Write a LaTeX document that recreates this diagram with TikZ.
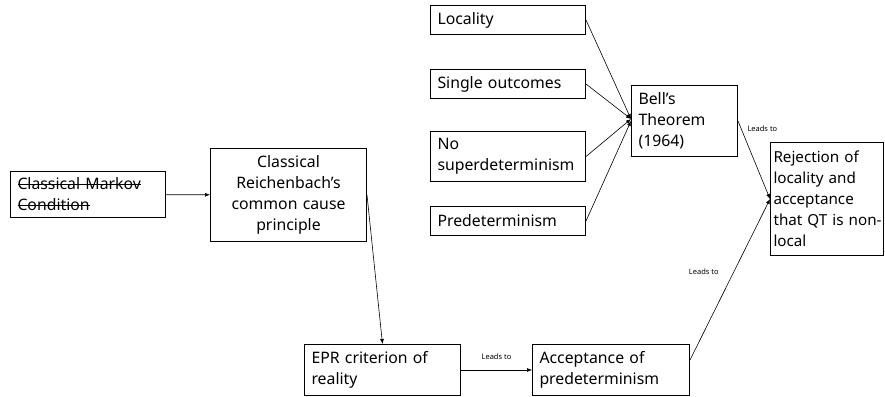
\documentclass[tikz,border=0pt]{standalone}
\usepackage{fontspec}
\setmainfont{Noto Sans}
\usetikzlibrary{arrows.meta}
\usetikzlibrary{positioning}

\newsavebox{\strikebox}
\newcommand{\strikeout}[1]{\leavevmode\sbox{\strikebox}{#1}\rlap{\rule[0.3em]{\wd\strikebox}{0.7pt}}\usebox{\strikebox}}

\tikzset{
  box/.style={draw, line width=1pt, anchor=north west, align=left,
    inner xsep=7pt, inner ysep=2pt, font=\fontsize{15.8}{21}\selectfont},
  link/.style={-{Latex[length=5pt,width=4pt]}, line width=0.6pt},
  lbl/.style={font=\fontsize{7.5}{9}\selectfont, inner sep=1pt},
}

\begin{document}
\begin{tikzpicture}[x=1pt,y=-1pt]
  \useasboundingbox (0,0) rectangle (885,396);

  % left chain
  \node[box, text width=141pt, minimum height=46pt] (markov) at (10,171)
    {\strikeout{Classical Markov}\\\strikeout{Condition}};
  \node[box, align=center, text width=142pt, minimum height=93pt] (reich) at (210,148)
    {Classical\\Reichenbach’s\\common cause\\principle};
  \node[box, text width=142pt, minimum height=51pt] (epr) at (304,344)
    {EPR criterion of\\reality};
  \node[box, text width=143pt, minimum height=51pt] (accept) at (532,344)
    {Acceptance of\\predeterminism};

  % assumptions of Bell
  \node[box, text width=141pt, minimum height=29pt] (locality) at (430,5) {Locality};
  \node[box, text width=141pt, minimum height=29pt] (single) at (430,69) {Single outcomes};
  \node[box, text width=141pt, minimum height=50pt] (nosuper) at (430,131)
    {No\\superdeterminism};
  \node[box, text width=141pt, minimum height=29pt] (predet) at (430,206) {Predeterminism};

  \node[box, text width=92pt, minimum height=71pt] (bell) at (631,85)
    {Bell’s\\Theorem\\(1964)};
  \node[box, inner xsep=3pt, text width=107pt, minimum height=113pt,
    font=\fontsize{15.2}{21}\selectfont] (reject) at (770,142)
    {Rejection of\\locality and\\acceptance\\\mbox{that QT is non-}\\local};

  \draw[link] (markov) -- (reich);
  \draw[link] (reich.east) -- (epr.north);
  \draw[link] (epr) -- node[lbl, above=9pt] {Leads to} (accept);
  \draw[link] ([yshift=10pt]accept.east) -- node[lbl, left=14pt, pos=0.55] {Leads to} (reject.west);

  \draw[link] (locality.east) -- ([yshift=2pt]bell.west);
  \draw[link] (single.east) -- ([yshift=2pt]bell.west);
  \draw[link] (nosuper.east) -- ([yshift=2pt]bell.west);
  \draw[link] (predet.east) -- (bell.west);
  \draw[link] (bell.east) -- node[lbl, right=5pt, pos=0.1] {Leads to} (reject.west);
\end{tikzpicture}
\end{document}
